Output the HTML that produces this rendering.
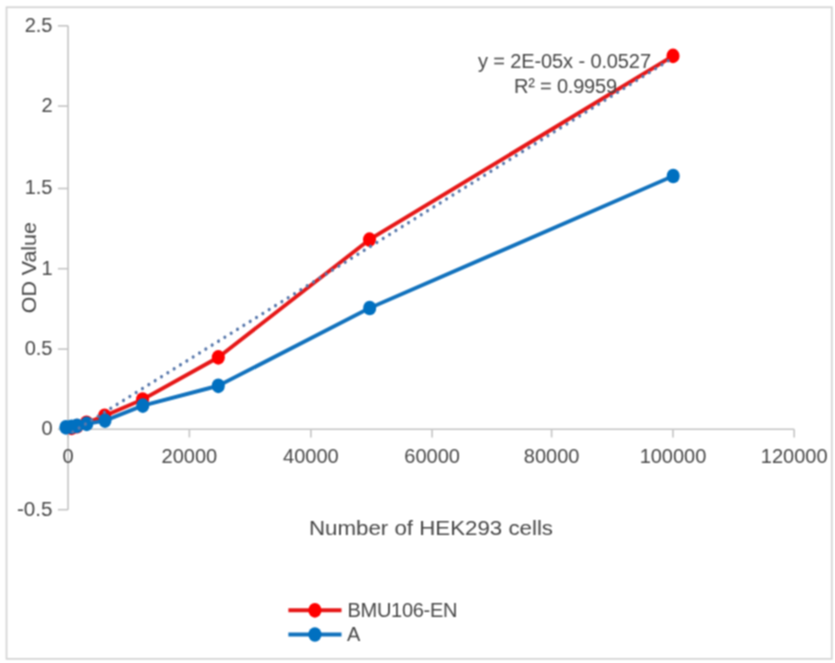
<!DOCTYPE html>
<html><head><meta charset="utf-8"><title>Chart</title>
<style>
html,body{margin:0;padding:0;background:#fff;width:835px;height:663px;overflow:hidden}
svg{display:block}
.t{font-family:"Liberation Sans",sans-serif;font-size:20px;fill:#474747}
</style></head><body>
<svg width="835" height="663" viewBox="0 0 835 663">
<defs><filter id="b" x="0" y="0" width="835" height="663" filterUnits="userSpaceOnUse" color-interpolation-filters="sRGB"><feConvolveMatrix order="3" kernelMatrix="1 2 1 2 4 2 1 2 1" divisor="16" edgeMode="duplicate"/></filter></defs>
<g filter="url(#b)">
<rect width="835" height="663" fill="#fff"/>
<rect x="6.5" y="7.25" width="825.3" height="651.6" fill="none" stroke="#d3d3d3" stroke-width="1.7"/>
<line x1="68.05" y1="25.8" x2="68.05" y2="509.7" stroke="#c4c4c4" stroke-width="1.6"/>
<line x1="57.9" y1="25.8" x2="68.05" y2="25.8" stroke="#c4c4c4" stroke-width="1.6"/>
<line x1="57.9" y1="106.1" x2="68.05" y2="106.1" stroke="#c4c4c4" stroke-width="1.6"/>
<line x1="57.9" y1="188.5" x2="68.05" y2="188.5" stroke="#c4c4c4" stroke-width="1.6"/>
<line x1="57.9" y1="268.7" x2="68.05" y2="268.7" stroke="#c4c4c4" stroke-width="1.6"/>
<line x1="57.9" y1="349.1" x2="68.05" y2="349.1" stroke="#c4c4c4" stroke-width="1.6"/>
<line x1="57.9" y1="429.3" x2="68.05" y2="429.3" stroke="#c4c4c4" stroke-width="1.6"/>
<line x1="57.9" y1="509.7" x2="68.05" y2="509.7" stroke="#c4c4c4" stroke-width="1.6"/>
<line x1="68.05" y1="429.3" x2="794.2" y2="429.3" stroke="#c4c4c4" stroke-width="1.6"/>
<line x1="68.05" y1="429.3" x2="68.05" y2="437.4" stroke="#c4c4c4" stroke-width="1.6"/>
<line x1="189.4" y1="429.3" x2="189.4" y2="437.4" stroke="#c4c4c4" stroke-width="1.6"/>
<line x1="310.9" y1="429.3" x2="310.9" y2="437.4" stroke="#c4c4c4" stroke-width="1.6"/>
<line x1="432.1" y1="429.3" x2="432.1" y2="437.4" stroke="#c4c4c4" stroke-width="1.6"/>
<line x1="551.6" y1="429.3" x2="551.6" y2="437.4" stroke="#c4c4c4" stroke-width="1.6"/>
<line x1="673.0" y1="429.3" x2="673.0" y2="437.4" stroke="#c4c4c4" stroke-width="1.6"/>
<line x1="794.2" y1="429.3" x2="794.2" y2="437.4" stroke="#c4c4c4" stroke-width="1.6"/>
<g transform="scale(0.89 1)"><polyline points="80.45,427.90 86.52,426.20 97.19,422.80 117.53,415.80 160.22,399.50 245.28,357.40 415.17,239.60 756.18,55.90" fill="none" stroke="#e61818" stroke-width="4.0" stroke-linejoin="round"/><circle cx="80.45" cy="427.90" r="7.35" fill="#ff0000"/><circle cx="86.52" cy="426.20" r="7.35" fill="#ff0000"/><circle cx="97.19" cy="422.80" r="7.35" fill="#ff0000"/><circle cx="117.53" cy="415.80" r="7.35" fill="#ff0000"/><circle cx="160.22" cy="399.50" r="7.35" fill="#ff0000"/><circle cx="245.28" cy="357.40" r="7.35" fill="#ff0000"/><circle cx="415.17" cy="239.60" r="7.35" fill="#ff0000"/><circle cx="756.18" cy="55.90" r="7.35" fill="#ff0000"/><polyline points="74.04,427.30 80.45,426.90 86.52,425.80 97.42,423.90 117.98,420.60 160.45,405.60 245.28,385.80 415.39,308.00 756.40,176.00" fill="none" stroke="#1272bd" stroke-width="4.0" stroke-linejoin="round"/><circle cx="74.04" cy="427.30" r="7.35" fill="#0070c0"/><circle cx="80.45" cy="426.90" r="7.35" fill="#0070c0"/><circle cx="86.52" cy="425.80" r="7.35" fill="#0070c0"/><circle cx="97.42" cy="423.90" r="7.35" fill="#0070c0"/><circle cx="117.98" cy="420.60" r="7.35" fill="#0070c0"/><circle cx="160.45" cy="405.60" r="7.35" fill="#0070c0"/><circle cx="245.28" cy="385.80" r="7.35" fill="#0070c0"/><circle cx="415.39" cy="308.00" r="7.35" fill="#0070c0"/><circle cx="756.40" cy="176.00" r="7.35" fill="#0070c0"/><line x1="81.80" y1="432.0" x2="754.72" y2="58.6" stroke="#5777ab" stroke-width="3.4" stroke-dasharray="0.01 8.1304" stroke-linecap="round"/><line x1="324.04" y1="610.3" x2="383.71" y2="610.3" stroke="#e61818" stroke-width="4.0"/><circle cx="353.82" cy="610.3" r="7.35" fill="#ff0000"/><line x1="324.04" y1="634.5" x2="383.71" y2="634.5" stroke="#1272bd" stroke-width="4.0"/><circle cx="353.82" cy="634.5" r="7.35" fill="#0070c0"/></g>
<text x="52.5" y="31.70" text-anchor="end" class="t">2.5</text>
<text x="52.5" y="112.00" text-anchor="end" class="t">2</text>
<text x="52.5" y="194.40" text-anchor="end" class="t">1.5</text>
<text x="52.5" y="274.60" text-anchor="end" class="t">1</text>
<text x="52.5" y="355.00" text-anchor="end" class="t">0.5</text>
<text x="52.5" y="435.20" text-anchor="end" class="t">0</text>
<text x="52.5" y="515.60" text-anchor="end" class="t" textLength="35.6" lengthAdjust="spacingAndGlyphs">-0.5</text>
<text x="68.05" y="463.3" text-anchor="middle" class="t">0</text>
<text x="189.40" y="463.3" text-anchor="middle" class="t">20000</text>
<text x="310.90" y="463.3" text-anchor="middle" class="t">40000</text>
<text x="432.10" y="463.3" text-anchor="middle" class="t">60000</text>
<text x="551.60" y="463.3" text-anchor="middle" class="t">80000</text>
<text x="673.00" y="463.3" text-anchor="middle" class="t">100000</text>
<text x="794.20" y="463.3" text-anchor="middle" class="t">120000</text>
<text x="309" y="534.6" class="t" textLength="244" lengthAdjust="spacingAndGlyphs">Number of HEK293 cells</text>
<text transform="translate(36.2 313.2) rotate(-90)" x="0" y="0" class="t" textLength="91" lengthAdjust="spacingAndGlyphs">OD Value</text>
<text x="478" y="68.2" class="t" textLength="173" lengthAdjust="spacing">y = 2E-05x - 0.0527</text>
<text x="514" y="93.2" class="t" textLength="103" lengthAdjust="spacing">R² = 0.9959</text>
<text x="347.5" y="616.6" class="t" textLength="110" lengthAdjust="spacing">BMU106-EN</text>
<text x="347" y="640.5" class="t">A</text>
</g>
</svg>
</body></html>
